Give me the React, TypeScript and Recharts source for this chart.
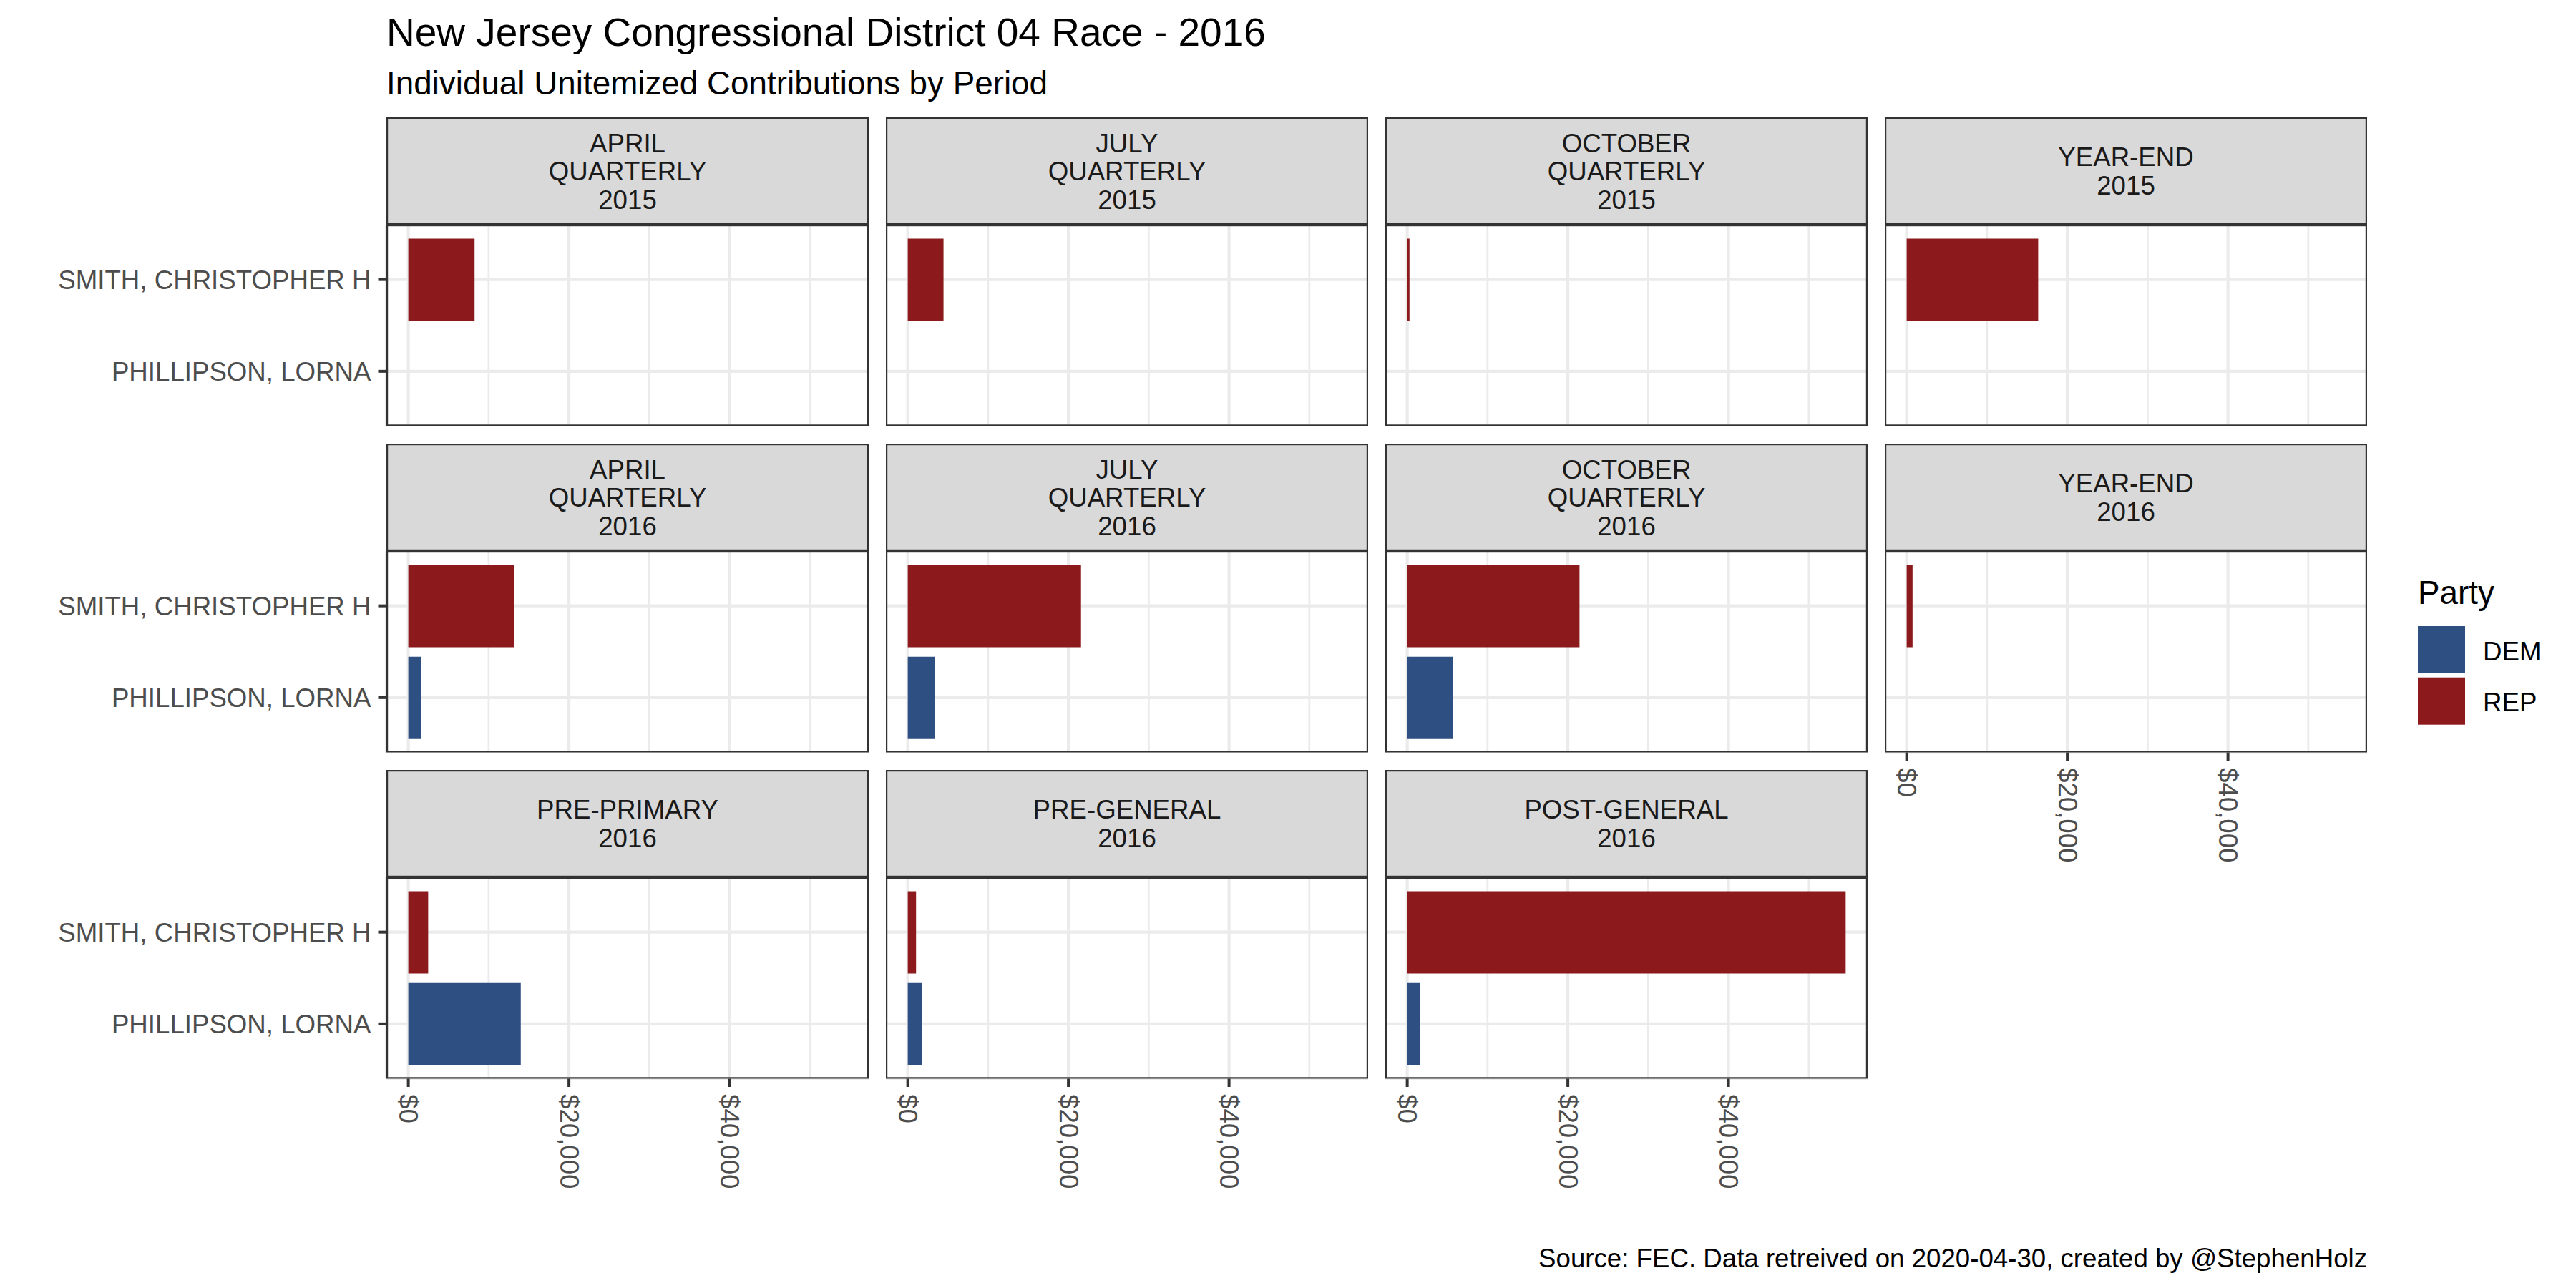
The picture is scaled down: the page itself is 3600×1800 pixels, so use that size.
import { Bar, BarChart, CartesianGrid, Cell, XAxis, YAxis } from "recharts";

// facet labels, in panel order (row by row)
const periods = [
  "APRIL\nQUARTERLY\n2015",
  "JULY\nQUARTERLY\n2015",
  "OCTOBER\nQUARTERLY\n2015",
  "YEAR-END\n2015",
  "APRIL\nQUARTERLY\n2016",
  "JULY\nQUARTERLY\n2016",
  "OCTOBER\nQUARTERLY\n2016",
  "YEAR-END\n2016",
  "PRE-PRIMARY\n2016",
  "PRE-GENERAL\n2016",
  "POST-GENERAL\n2016",
];

const candidates = ["SMITH, CHRISTOPHER H", "PHILLIPSON, LORNA"];
const candidateParty = ["REP", "DEM"];

// unitemized individual contributions, $ (null = no filing)
const smithAmounts = [8250, 4450, 280, 16370, 13130, 21570, 21450, 730, 2470, 1030, 54590];
const phillipsonAmounts = [null, null, null, null, 1590, 3340, 5730, null, 14000, 1750, 1600];

const xTicks = [0, 20000, 40000];
const xMinorTicks = [10000, 30000, 50000];

const legendParties = ["DEM", "REP"];
const partyColors: Record<string, string> = { DEM: "#2D4F81", REP: "#8C1A1D" };

const FONT = "'Liberation Sans', Arial, sans-serif";

// layout (px)
const COL_LEFT = [540, 1238, 1936, 2634];
const STRIP_TOP = [164, 620, 1076];
const STRIP_H = 150;
const PLOT_W = 674;
const PLOT_H = 281.5;
const Y_AXIS_W = 540;
const X_AXIS_H = 180;
const Y_PAD = 12.55;
const LINE = 2.2;

const allAmounts = [...smithAmounts, ...phillipsonAmounts].filter((v): v is number => v != null);
const maxAmount = Math.max(...allAmounts);
const xDomain = [-0.05 * maxAmount, 1.05 * maxAmount];

const fmtDollar = (v: number) => "$" + v.toLocaleString("en-US");

const RotatedTick = (props: any) => {
  const { x, y, payload } = props;
  return (
    <text
      x={x}
      y={y}
      transform={`rotate(90, ${x}, ${y})`}
      textAnchor="start"
      dominantBaseline="central"
      fill="#4D4D4D"
      fontSize={36.67}
      fontFamily={FONT}
    >
      {fmtDollar(payload.value)}
    </text>
  );
};

function Panel({ index }: { index: number }) {
  const col = index % 4;
  const row = Math.floor(index / 4);
  const showY = col === 0;
  const showX = index + 4 >= periods.length;
  const yW = showY ? Y_AXIS_W : 0;
  const xH = showX ? X_AXIS_H : 0;

  const data = candidates.map((c, j) => ({
    candidate: c,
    party: candidateParty[j],
    amount: j === 0 ? smithAmounts[index] : phillipsonAmounts[index],
  }));

  return (
    <div style={{ position: "absolute", left: COL_LEFT[col] - yW, top: STRIP_TOP[row] + STRIP_H }}>
      <BarChart
        width={PLOT_W + yW}
        height={PLOT_H + xH}
        data={data}
        layout="vertical"
        margin={{ top: 0, right: 0, bottom: 0, left: 0 }}
        barCategoryGap={0}
      >
        <CartesianGrid horizontal={false} verticalValues={xMinorTicks} stroke="#EBEBEB" strokeWidth={2.8} />
        <CartesianGrid stroke="#EBEBEB" strokeWidth={4.2} />
        <XAxis
          type="number"
          domain={xDomain}
          allowDataOverflow
          ticks={xTicks}
          interval={0}
          hide={!showX}
          height={X_AXIS_H}
          axisLine={false}
          tickSize={11.5}
          tickMargin={10}
          tickLine={{ stroke: "#333333", strokeWidth: 4 }}
          tick={<RotatedTick />}
        />
        <YAxis
          type="category"
          dataKey="candidate"
          hide={!showY}
          width={Y_AXIS_W}
          padding={{ top: Y_PAD, bottom: Y_PAD }}
          interval={0}
          axisLine={false}
          tickSize={11.5}
          tickMargin={10}
          tickLine={{ stroke: "#333333", strokeWidth: 4 }}
          tick={{ fill: "#4D4D4D", fontSize: 36.67, fontFamily: FONT }}
        />
        <Bar dataKey="amount" barSize={115} isAnimationActive={false}>
          {data.map((d, k) => (
            <Cell key={`cell-${k}`} fill={partyColors[d.party]} />
          ))}
        </Bar>
      </BarChart>
    </div>
  );
}

function Overlay() {
  return (
    <svg
      width={3600}
      height={1800}
      style={{ position: "absolute", left: 0, top: 0, pointerEvents: "none" }}
      fontFamily={FONT}
    >
      <text x={540} y={64} fontSize={55} fill="#000">
        New Jersey Congressional District 04 Race - 2016
      </text>
      <text x={540} y={132} fontSize={45.8} fill="#000">
        Individual Unitemized Contributions by Period
      </text>

      {periods.map((p, i) => {
        const col = i % 4;
        const row = Math.floor(i / 4);
        const x = COL_LEFT[col];
        const top = STRIP_TOP[row];
        const lines = p.split("\n");
        return (
          <g key={p}>
            <rect
              x={x + LINE / 2}
              y={top + LINE / 2}
              width={PLOT_W - LINE}
              height={STRIP_H - LINE}
              fill="#D9D9D9"
              stroke="#333333"
              strokeWidth={LINE}
            />
            {lines.map((ln, k) => (
              <text
                key={k}
                x={x + PLOT_W / 2}
                y={top + STRIP_H / 2 + 13.1 + (k - (lines.length - 1) / 2) * 39.6}
                textAnchor="middle"
                fontSize={36.67}
                fill="#1A1A1A"
              >
                {ln}
              </text>
            ))}
            <rect
              x={x + LINE / 2}
              y={top + STRIP_H + LINE / 2}
              width={PLOT_W - LINE}
              height={PLOT_H - LINE}
              fill="none"
              stroke="#333333"
              strokeWidth={LINE}
            />
          </g>
        );
      })}

      <text x={3379} y={844} fontSize={45.8} fill="#000">
        Party
      </text>
      {legendParties.map((p, k) => (
        <g key={p}>
          <rect x={3379} y={875 + k * 71.7} width={66} height={66} fill={partyColors[p]} />
          <text x={3470} y={922.7 + k * 71.7} fontSize={36.67} fill="#000">
            {p}
          </text>
        </g>
      ))}

      <text x={3308} y={1771} textAnchor="end" fontSize={36.67} fill="#000">
        Source: FEC. Data retreived on 2020-04-30, created by @StephenHolz
      </text>
    </svg>
  );
}

export default function App() {
  return (
    <div
      style={{
        position: "absolute",
        left: 0,
        top: 0,
        width: 3600,
        height: 1800,
        background: "#fff",
        overflow: "hidden",
        fontFamily: FONT,
      }}
    >
      {periods.map((p, i) => (
        <Panel key={p} index={i} />
      ))}
      <Overlay />
    </div>
  );
}
